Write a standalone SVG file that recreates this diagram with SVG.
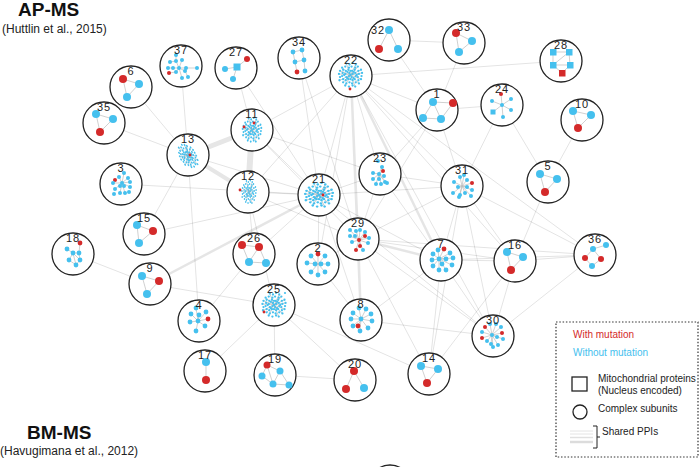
<svg xmlns="http://www.w3.org/2000/svg" xmlns:xlink="http://www.w3.org/1999/xlink" width="700" height="467" viewBox="0 0 700 467">
<style>
text{font-family:"Liberation Sans",Arial,sans-serif}
.c{fill:#fff;stroke:#222;stroke-width:1.3}
.l{font-size:11px;fill:#222;text-anchor:middle;letter-spacing:1px}
.ie{stroke:#bbb;stroke-width:0.7;fill:none}
.B{fill:#45c0ee;r:4px}.R{fill:#d42a2a;r:4px}
.b3{fill:#45c0ee;r:3px}.r3{fill:#d42a2a;r:3px}
.b2{fill:#45c0ee;r:2.4px}.r2{fill:#d42a2a;r:2.4px}
.b1{fill:#45c0ee;r:2px}.r1{fill:#d42a2a;r:2px}
.s{fill:#45c0ee;r:1.1px}.sr{fill:#d42a2a;r:1.4px}
.sqb{fill:#45c0ee}.sqr{fill:#d42a2a}
.e{stroke:#000;stroke-opacity:0.11;stroke-width:1;fill:none}
.m{stroke:#000;stroke-opacity:0.1;stroke-width:2.5;fill:none}
.t{stroke:#e6e6e6;fill:none}
.h{font-weight:bold;font-size:19px;fill:#111}
.sub{font-size:12px;fill:#222}
.lg{font-size:10px;fill:#222}
</style>
<defs>
<g id="cloud">
<path class="ie" d="M0,0L-4,-11M0,0L5,-10M0,0L-10,-4M0,0L10,-5M0,0L-10,5M0,0L10,4M0,0L-5,10M0,0L4.5,11M0,0L-8,-7M0,0L7,-8M0,0L-7,7M0,0L8,8M0,0L-11,-1M0,0L11,-2M-3,-3L3,3M3,-3L-3,3"/>
<circle class="s" cx="-4" cy="-11"/><circle class="s" cx="-1" cy="-10"/><circle class="s" cx="2" cy="-11.5"/><circle class="s" cx="5" cy="-10"/>
<circle class="s" cx="-8" cy="-7"/><circle class="s" cx="-5" cy="-8"/><circle class="s" cx="-1.5" cy="-7"/><circle class="s" cx="1" cy="-8"/><circle class="s" cx="4.5" cy="-7"/><circle class="s" cx="7" cy="-8"/>
<circle class="s" cx="-10" cy="-4"/><circle class="s" cx="-7" cy="-5"/><circle class="s" cx="-4.5" cy="-4"/><circle class="s" cx="-2" cy="-5"/><circle class="s" cx="1.5" cy="-4"/><circle class="s" cx="4" cy="-5"/><circle class="s" cx="7.5" cy="-4"/><circle class="s" cx="10" cy="-5"/>
<circle class="s" cx="-11" cy="-1"/><circle class="s" cx="-7.5" cy="-2"/><circle class="s" cx="-5" cy="-1"/><circle class="s" cx="-1" cy="-2"/><circle class="s" cx="2" cy="-1"/><circle class="s" cx="4.5" cy="-2"/><circle class="s" cx="8" cy="-1"/><circle class="s" cx="11" cy="-2"/>
<circle class="s" cx="-10" cy="2"/><circle class="s" cx="-8" cy="1"/><circle class="s" cx="-4" cy="2"/><circle class="s" cx="-1.5" cy="1"/><circle class="s" cx="1" cy="2"/><circle class="s" cx="5" cy="1"/><circle class="s" cx="7" cy="2"/><circle class="s" cx="10.5" cy="1"/>
<circle class="s" cx="-10.5" cy="5"/><circle class="s" cx="-7" cy="4"/><circle class="s" cx="-4.5" cy="5"/><circle class="s" cx="-2" cy="4"/><circle class="s" cx="2" cy="5"/><circle class="s" cx="4" cy="4"/><circle class="s" cx="7.5" cy="5"/><circle class="s" cx="10" cy="4"/>
<circle class="s" cx="-7" cy="7"/><circle class="s" cx="-4" cy="8"/><circle class="s" cx="-1" cy="7"/><circle class="s" cx="1.5" cy="8"/><circle class="s" cx="5" cy="7"/><circle class="s" cx="8" cy="8"/>
<circle class="s" cx="-5" cy="10"/><circle class="s" cx="-1.5" cy="11"/><circle class="s" cx="2" cy="10"/><circle class="s" cx="4.5" cy="11"/>
<circle class="s" cx="0" cy="0"/><circle class="s" cx="-3" cy="-3"/><circle class="s" cx="3" cy="3"/><circle class="s" cx="-3" cy="3"/><circle class="s" cx="3" cy="-3"/><circle class="s" cx="0" cy="-4"/><circle class="s" cx="0" cy="4"/><circle class="s" cx="-6" cy="0"/><circle class="s" cx="6" cy="0"/>
</g>
</defs>
<rect width="700" height="467" fill="#fff"/>

<g id="connectors">
<path class="t" stroke-width="5" d="M188,155L252,130"/>
<path class="t" stroke-width="6" d="M252,130L248,192"/>
<path class="t" stroke-width="4" d="M188,155L248,192"/>
<path class="m" d="M351,76L358,239M351,76L361,320M361,320L358,239M150,284L319,195M358,239L441,260M351,76L441,260"/>
<path class="e" d="M131,87L188,155M104,123L188,155M181,66L188,155M188,155L319,195M121,184L319,195M188,155L144,234M188,155L199,321M236,68L252,130M236,68L319,195M299,58L319,195M299,58L358,239M252,130L351,76M252,130L319,195M252,130L380,174M252,130L358,239M351,76L319,195M351,76L380,174M351,76L318,264M351,76L462,186M351,76L493,336M351,76L515,261M351,76L248,192M351,76L437,110M351,76L561,61M351,76L595,255M464,43L437,110M389,40L437,110M389,40L464,43M502,105L437,110M502,105L462,186M502,105L548,182M582,120L548,182M437,110L462,186M437,110L380,174M437,110L358,239M548,182L515,261M462,186L515,261M462,186L595,255M462,186L441,260M462,186L493,336M462,186L358,239M462,186L380,174M462,186L319,195M441,260L515,261M515,261L595,255M441,260L595,255M358,239L515,261M358,239L595,255M319,195L441,260M595,255L493,336M515,261L493,336M441,260L493,336M361,320L493,336M429,374L441,260M429,374L462,186M429,374L358,239M429,374L515,261M355,380L274,305M275,375L355,380M274,305L275,375M274,305L429,374M205,371L274,305M199,321L254,254M150,284L73,254M150,284L274,305M144,234L319,195M254,254L248,192M254,254L319,195M318,264L319,195M318,264L358,239M380,174L441,260M380,174L319,195M380,174L358,239M319,195L493,336M248,192L319,195M248,192L274,305M318,264L361,320M358,239L493,336M248,192L358,239M441,260L361,320M319,195L361,320"/>
</g>

<g id="n6" transform="translate(131,87)"><circle class="c" r="21"/><path class="ie" d="M-8,-8L8,-3L-4,10Z"/><circle class="R" cx="-8" cy="-8"/><circle class="B" cx="8" cy="-3"/><circle class="B" cx="-4" cy="10"/><text class="l" y="-12">6</text></g>
<g id="n35" transform="translate(104,123)"><circle class="c" r="21"/><path class="ie" d="M-8,-9L9,-4L-4,9Z"/><circle class="B" cx="-8" cy="-9"/><circle class="B" cx="9" cy="-4"/><circle class="R" cx="-4" cy="9"/><text class="l" y="-12">35</text></g>
<g id="n37" transform="translate(181,66)"><circle class="c" r="21"/><path class="ie" d="M-2,2L-5,-5M-2,2L1,-6M-2,2L-8,2M-2,2L5,2M-2,2L-5,6M-2,2L4,5M-2,2L1,12M-5,-5L-5,-11M-8,2L-13,2M5,2L16,2M-5,6L-12,7M4,5L7,11M-5,-5L-11,-4"/><circle class="b1" cx="-5" cy="-11"/><circle class="b1" cx="-11" cy="-4"/><circle class="b1" cx="-5" cy="-5"/><circle class="b1" cx="1" cy="-6"/><circle class="b1" cx="-13" cy="2"/><circle class="b1" cx="-8" cy="2"/><circle class="b1" cx="-2" cy="2"/><circle class="b1" cx="5" cy="2"/><circle class="b1" cx="16" cy="2"/><circle class="b1" cx="-5" cy="6"/><circle class="b1" cx="4" cy="5"/><circle class="r1" cx="-12" cy="7"/><circle class="b1" cx="1" cy="12"/><circle class="b1" cx="7" cy="11"/><text class="l" y="-12">37</text></g>
<g id="n27" transform="translate(236,68)"><circle class="c" r="21"/><path class="ie" d="M1,-1L11,-9M1,-1L-11,1M1,-1L-3,11"/><rect class="sqb" x="-2.5" y="-4.5" width="7" height="7"/><circle class="r3" cx="11" cy="-9"/><circle class="b3" cx="-11" cy="1"/><circle class="b3" cx="-3" cy="11"/><text class="l" y="-12">27</text></g>
<g id="n34" transform="translate(299,58)"><circle class="c" r="21"/><path class="ie" d="M-6,-6L-4,4M3,-8L5,2M-4,4L5,2M-6,-6L3,-8M5,2L6,13M-4,4L-2,14"/><circle class="b2" cx="-6" cy="-6"/><circle class="b2" cx="3" cy="-8"/><circle class="b2" cx="-4" cy="4"/><circle class="b2" cx="5" cy="2"/><circle class="r2" cx="-2" cy="14"/><circle class="b2" cx="6" cy="13"/><text class="l" y="-12">34</text></g>
<g id="n22" transform="translate(351,76)"><circle class="c" r="21"/><use xlink:href="#cloud" transform="translate(-0.5,-1) scale(1.05)"/><circle class="sr" cx="-1" cy="13"/><text class="l" y="-12">22</text></g>
<g id="n32" transform="translate(389,40)"><circle class="c" r="21"/><path class="ie" d="M-10,9L0,-10L9,9"/><circle class="B" cx="0" cy="-10"/><circle class="R" cx="-10" cy="9"/><circle class="B" cx="9" cy="9"/><text class="l" x="-11" y="-6">32</text></g>
<g id="n33" transform="translate(464,43)"><circle class="c" r="21"/><path class="ie" d="M-8,-10L8,-2L-5,9Z"/><circle class="R" cx="-8" cy="-10"/><circle class="B" cx="8" cy="-2"/><circle class="B" cx="-5" cy="9"/><text class="l" y="-12">33</text></g>
<g id="n1" transform="translate(437,110)"><circle class="c" r="21"/><path class="ie" d="M-4,-8L16,-7M-4,-8L-14,8M-4,-8L4,9M16,-7L4,9M-14,8L4,9"/><circle class="B" cx="-4" cy="-8"/><circle class="R" cx="16" cy="-7"/><circle class="B" cx="-14" cy="8"/><circle class="B" cx="4" cy="9"/><text class="l" y="-12">1</text></g>
<g id="n28" transform="translate(561,61)"><circle class="c" r="21"/><path class="ie" d="M-8,-9L8,-9L9,4L-8,4ZM8,-9L-8,4M-8,4L1,12L9,4"/><rect class="sqb" x="-11" y="-12" width="6.5" height="6.5"/><rect class="sqb" x="5" y="-12" width="6.5" height="6.5"/><rect class="sqb" x="-11" y="1" width="6.5" height="6.5"/><rect class="sqb" x="6" y="1" width="6.5" height="6.5"/><rect class="sqr" x="-2" y="9" width="6.5" height="6.5"/><text class="l" y="-12">28</text></g>
<g id="n24" transform="translate(502,105)"><circle class="c" r="21"/><path class="ie" d="M0,0L-1,-11M0,0L-10,-4M0,0L9,-6M0,0L-9,7M0,0L9,5M0,0L1,12"/><circle class="r1" cx="-1" cy="-11"/><circle class="b1" cx="-10" cy="-4"/><circle class="b1" cx="9" cy="-6"/><circle class="b1" cx="0" cy="0"/><rect class="sqb" x="-11.5" y="4.5" width="5" height="5"/><circle class="b1" cx="9" cy="5"/><circle class="b1" cx="1" cy="12"/><text class="l" y="-12">24</text></g>
<g id="n10" transform="translate(582,120)"><circle class="c" r="21"/><path class="ie" d="M-9,-9L9,-5L-4,8Z"/><circle class="B" cx="-9" cy="-9"/><circle class="B" cx="9" cy="-5"/><circle class="R" cx="-4" cy="8"/><text class="l" y="-12">10</text></g>
<g id="n11" transform="translate(252,130)"><circle class="c" r="21"/><use xlink:href="#cloud" transform="translate(0,0) scale(0.85,1.05)"/><circle class="sr" cx="2" cy="-7"/><circle class="sr" cx="-8" cy="-3"/><text class="l" y="-12">11</text></g>
<g id="n13" transform="translate(188,155)"><circle class="c" r="21"/><use xlink:href="#cloud" transform="translate(0,1) rotate(-35) scale(0.7,1.1)"/><circle class="sr" cx="2" cy="0"/><text class="l" y="-12">13</text></g>
<g id="n3" transform="translate(121,184)"><circle class="c" r="21"/><path class="ie" d="M1,-1L3,-11M1,-1L-2,-7M1,-1L7,-6M1,-1L-8,-1M1,-1L9,-2M1,-1L-1,2M1,-1L3,2M1,-1L-6,5M1,-1L9,3M1,-1L-1,9M1,-1L4,9"/><circle class="b1" cx="3" cy="-11"/><circle class="b1" cx="-2" cy="-7"/><circle class="r1" cx="-6" cy="-4"/><circle class="b1" cx="7" cy="-6"/><circle class="b1" cx="-8" cy="-1"/><circle class="b1" cx="1" cy="-1"/><circle class="b1" cx="9" cy="-2"/><circle class="b1" cx="-1" cy="2"/><circle class="b1" cx="-6" cy="5"/><circle class="b1" cx="3" cy="2"/><circle class="b1" cx="9" cy="3"/><circle class="b1" cx="-7" cy="10"/><circle class="b1" cx="-1" cy="9"/><circle class="b1" cx="4" cy="9"/><circle class="b1" cx="8" cy="8"/><text class="l" y="-12">3</text></g>
<g id="n15" transform="translate(144,234)"><circle class="c" r="21"/><path class="ie" d="M-7,-9L9,-3L-5,9Z"/><circle class="B" cx="-7" cy="-9"/><circle class="R" cx="9" cy="-3"/><circle class="B" cx="-5" cy="9"/><text class="l" y="-12">15</text></g>
<g id="n18" transform="translate(73,254)"><circle class="c" r="21"/><path class="ie" d="M7,-11L6,-1M-6,-5L0,-1L6,-1L7,6L3,11L-4,6L0,-1L7,6M0,-1L3,11"/><circle class="r2" cx="7" cy="-11"/><circle class="b2" cx="-6" cy="-5"/><circle class="b2" cx="0" cy="-1"/><circle class="b2" cx="6" cy="-1"/><circle class="b2" cx="-4" cy="6"/><circle class="b2" cx="7" cy="6"/><circle class="b2" cx="3" cy="11"/><text class="l" y="-12">18</text></g>
<g id="n9" transform="translate(150,284)"><circle class="c" r="21"/><path class="ie" d="M-8,-8L9,-3L-3,10Z"/><circle class="B" cx="-8" cy="-8"/><circle class="R" cx="9" cy="-3"/><circle class="B" cx="-3" cy="10"/><text class="l" y="-12">9</text></g>
<g id="n12" transform="translate(248,192)"><circle class="c" r="21"/><use xlink:href="#cloud" transform="translate(1,0) scale(0.65,1)"/><circle class="sr" cx="-8" cy="-2"/><text class="l" y="-12">12</text></g>
<g id="n21" transform="translate(319,195)"><circle class="c" r="21"/><use xlink:href="#cloud" transform="scale(1.25,1.05)"/><circle class="sr" cx="4" cy="0"/><text class="l" y="-12">21</text></g>
<g id="n23" transform="translate(380,174)"><circle class="c" r="21"/><path class="ie" d="M-1,0L2,-7M-1,0L3,-3M-1,0L-7,-1M-1,0L4,2M-1,0L-7,5M-1,0L-1,5M-1,0L5,8M-1,0L-4,10M-1,0L1,10M-1,0L7,9"/><circle class="b1" cx="-2" cy="-13"/><circle class="b1" cx="2" cy="-7"/><circle class="r1" cx="3" cy="-3"/><circle class="b1" cx="-7" cy="-1"/><circle class="b1" cx="-1" cy="0"/><circle class="b1" cx="4" cy="2"/><circle class="b1" cx="-7" cy="5"/><circle class="b1" cx="-1" cy="5"/><circle class="b1" cx="5" cy="8"/><circle class="b1" cx="-4" cy="10"/><circle class="b1" cx="1" cy="10"/><circle class="b1" cx="7" cy="9"/><text class="l" y="-12">23</text></g>
<g id="n31" transform="translate(462,186)"><circle class="c" r="21"/><path class="ie" d="M0,0L2,-11M0,0L-2,-9M0,0L5,-6M0,0L10,-3M0,0L-8,-4M0,0L-4,1M0,0L5,1M0,0L-9,7M0,0L-2,9M0,0L3,7M0,0L10,4M0,0L9,10M0,0L-3,11"/><circle class="b1" cx="2" cy="-11"/><circle class="b1" cx="-2" cy="-9"/><circle class="b1" cx="5" cy="-6"/><circle class="r1" cx="10" cy="-3"/><circle class="b1" cx="-8" cy="-4"/><circle class="b1" cx="-4" cy="1"/><circle class="b1" cx="5" cy="1"/><circle class="b1" cx="-9" cy="7"/><circle class="b1" cx="-2" cy="9"/><circle class="b1" cx="3" cy="7"/><circle class="b1" cx="10" cy="4"/><circle class="b1" cx="9" cy="10"/><circle class="b1" cx="-3" cy="11"/><text class="l" y="-12">31</text></g>
<g id="n29" transform="translate(358,239)"><circle class="c" r="21"/><path class="ie" d="M1,1L-8,-9M1,1L-2,-8M1,1L2,-9M1,1L7,-7M1,1L7,-3M1,1L-8,-3M1,1L11,-1M1,1L-6,3M1,1L10,4M1,1L2,7M1,1L-2,11M1,1L5,11"/><circle class="b1" cx="-8" cy="-9"/><circle class="b1" cx="-2" cy="-8"/><circle class="b1" cx="2" cy="-9"/><circle class="b1" cx="7" cy="-7"/><circle class="r1" cx="7" cy="-3"/><circle class="b1" cx="-8" cy="-3"/><circle class="b1" cx="-3" cy="-3"/><circle class="r1" cx="1" cy="1"/><circle class="b1" cx="11" cy="-1"/><circle class="b1" cx="-6" cy="3"/><circle class="b1" cx="10" cy="4"/><circle class="r1" cx="2" cy="7"/><circle class="r1" cx="-2" cy="11"/><circle class="b1" cx="5" cy="11"/><text class="l" y="-12">29</text></g>
<g id="n26" transform="translate(254,254)"><circle class="c" r="21"/><path class="ie" d="M-12,-9L5,-7L-5,8L-12,-9M5,-7L12,9L-5,8"/><circle class="R" cx="-12" cy="-9"/><circle class="R" cx="5" cy="-7"/><circle class="B" cx="-5" cy="8"/><circle class="B" cx="12" cy="9"/><text class="l" y="-12">26</text></g>
<g id="n2" transform="translate(318,264)"><circle class="c" r="21"/><path class="ie" d="M0,0L0,-10M0,0L-7,-8M0,0L7,-8M0,0L-11,-1M0,0L10,0M0,0L-7,8M0,0L0,11M0,0L7,8"/><circle class="r2" cx="0" cy="-10"/><circle class="b2" cx="-7" cy="-8"/><circle class="b2" cx="7" cy="-8"/><circle class="b2" cx="-11" cy="-1"/><circle class="b2" cx="-3" cy="0"/><circle class="b2" cx="3" cy="0"/><circle class="b2" cx="10" cy="0"/><circle class="b2" cx="-7" cy="8"/><circle class="b2" cx="0" cy="11"/><circle class="b2" cx="7" cy="8"/><text class="l" y="-12">2</text></g>
<g id="n7" transform="translate(441,260)"><circle class="c" r="21"/><path class="ie" d="M-2,-1L-3,-10M-2,-1L3,-11M-2,-1L-8,-6M-2,-1L9,-7M-2,-1L-9,0M-2,-1L5,-1M-2,-1L12,-2M-2,-1L-8,6M-2,-1L1,4M-2,-1L11,5M-2,-1L-2,10M-2,-1L5,10"/><circle class="b2" cx="-3" cy="-10"/><circle class="r2" cx="3" cy="-11"/><circle class="b2" cx="-8" cy="-6"/><circle class="b2" cx="9" cy="-7"/><circle class="b2" cx="-9" cy="0"/><circle class="b2" cx="-2" cy="-1"/><circle class="b2" cx="5" cy="-1"/><circle class="b2" cx="12" cy="-2"/><circle class="b2" cx="-8" cy="6"/><circle class="b2" cx="1" cy="4"/><circle class="b2" cx="11" cy="5"/><circle class="b2" cx="-2" cy="10"/><circle class="b2" cx="5" cy="10"/><text class="l" y="-12">7</text></g>
<g id="n25" transform="translate(274,305)"><circle class="c" r="21"/><use xlink:href="#cloud" transform="scale(1.05)"/><circle class="s" cx="11" cy="-12"/><circle class="sr" cx="-10" cy="7"/><text class="l" y="-12">25</text></g>
<g id="n8" transform="translate(361,320)"><circle class="c" r="21"/><path class="ie" d="M0,-1L-2,-12M0,-1L5,-11M0,-1L-8,-7M0,-1L10,-6M0,-1L-10,-1M0,-1L11,1M0,-1L-8,6M0,-1L-3,6M0,-1L7,8M0,-1L-1,11"/><circle class="b2" cx="-2" cy="-12"/><circle class="b2" cx="5" cy="-11"/><circle class="b2" cx="-8" cy="-7"/><circle class="b2" cx="10" cy="-6"/><circle class="b2" cx="-10" cy="-1"/><circle class="b2" cx="0" cy="-1"/><circle class="b2" cx="11" cy="1"/><circle class="b2" cx="-8" cy="6"/><circle class="r2" cx="-3" cy="6"/><circle class="b2" cx="7" cy="8"/><circle class="b2" cx="-1" cy="11"/><text class="l" y="-12">8</text></g>
<g id="n5" transform="translate(548,182)"><circle class="c" r="21"/><path class="ie" d="M-8,-8L9,-3L-3,10Z"/><circle class="B" cx="-8" cy="-8"/><circle class="B" cx="9" cy="-3"/><circle class="R" cx="-3" cy="10"/><text class="l" y="-12">5</text></g>
<g id="n16" transform="translate(515,261)"><circle class="c" r="21"/><path class="ie" d="M-8,-9L8,-4L-4,9Z"/><circle class="B" cx="-8" cy="-9"/><circle class="B" cx="8" cy="-4"/><circle class="R" cx="-4" cy="9"/><text class="l" y="-12">16</text></g>
<g id="n36" transform="translate(595,255)"><circle class="c" r="21"/><path class="ie" d="M-2,-6L11,-10M-2,-6L-10,3M-2,-6L6,4M-10,3L-3,11L6,4"/><circle class="b3" cx="-2" cy="-6"/><circle class="b3" cx="11" cy="-10"/><circle class="r3" cx="-10" cy="3"/><circle class="r3" cx="6" cy="4"/><circle class="b3" cx="-3" cy="11"/><text class="l" y="-12">36</text></g>
<g id="n4" transform="translate(199,321)"><circle class="c" r="21"/><path class="ie" d="M-1,0L-3,-13M-1,0L-8,-7M-1,0L0,-6M-1,0L7,-9M-1,0L-9,1M-1,0L9,-2M-1,0L6,5M-1,0L-3,10"/><circle class="b2" cx="-3" cy="-13"/><circle class="b2" cx="-8" cy="-7"/><circle class="b2" cx="0" cy="-6"/><circle class="b2" cx="7" cy="-9"/><circle class="b2" cx="-9" cy="1"/><circle class="b2" cx="-1" cy="0"/><circle class="r2" cx="9" cy="-2"/><circle class="b2" cx="6" cy="5"/><circle class="b2" cx="-3" cy="10"/><text class="l" y="-12">4</text></g>
<g id="n17" transform="translate(205,371)"><circle class="c" r="21"/><path class="ie" d="M1,-9L1,9"/><circle class="B" cx="1" cy="-9"/><circle class="R" cx="1" cy="9"/><text class="l" y="-12">17</text></g>
<g id="n19" transform="translate(275,375)"><circle class="c" r="21"/><path class="ie" d="M-8,-10L5,-4M-8,-10L-13,1M-8,-10L-2,9M-13,1L-2,9L14,10L5,-4L-2,9"/><circle class="r3" cx="-8" cy="-10" style="r:3.5px"/><circle class="b3" cx="5" cy="-4" style="r:3.5px"/><circle class="b3" cx="-13" cy="1" style="r:3.5px"/><circle class="b3" cx="-2" cy="9" style="r:3.5px"/><circle class="b3" cx="14" cy="10" style="r:3.5px"/><text class="l" y="-12">19</text></g>
<g id="n20" transform="translate(355,380)"><circle class="c" r="21"/><path class="ie" d="M-9,9L-1,-9L9,8"/><circle class="R" cx="-1" cy="-9"/><circle class="R" cx="-9" cy="9"/><circle class="B" cx="9" cy="8"/><text class="l" y="-12">20</text></g>
<g id="n14" transform="translate(429,374)"><circle class="c" r="21"/><path class="ie" d="M-8,-8L9,-5L-2,9Z"/><circle class="B" cx="-8" cy="-8"/><circle class="B" cx="9" cy="-5"/><circle class="R" cx="-2" cy="9"/><text class="l" y="-12">14</text></g>
<g id="n30" transform="translate(493,336)"><circle class="c" r="21"/><path class="ie" d="M-1,-1L-3,-12M-1,-1L3,-12M-1,-1L-8,-9M-1,-1L8,-9M-1,-1L-11,-4M-1,-1L9,-3M-1,-1L-11,2M-1,-1L4,1M-1,-1L-6,5M-1,-1L10,3M-1,-1L-2,8M-1,-1L5,9M-1,-1L0,11"/><circle class="b1" cx="-3" cy="-12"/><circle class="b1" cx="3" cy="-12"/><circle class="r1" cx="-8" cy="-9"/><circle class="b1" cx="8" cy="-9"/><circle class="b1" cx="-11" cy="-4"/><circle class="b1" cx="-1" cy="-1"/><circle class="r1" cx="9" cy="-3"/><circle class="r1" cx="-11" cy="2"/><circle class="b1" cx="4" cy="1"/><circle class="b1" cx="-6" cy="5"/><circle class="b1" cx="10" cy="3"/><circle class="b1" cx="-2" cy="8"/><circle class="b1" cx="5" cy="9"/><circle class="b1" cx="0" cy="11"/><text class="l" y="-12">30</text></g>
<g id="n-bottom"><circle class="c" cx="390" cy="486" r="21"/></g>

<g id="titles">
<text class="h" x="18" y="16">AP-MS</text>
<text class="sub" x="2" y="33">(Huttlin et al., 2015)</text>
<text class="h" x="27" y="439">BM-MS</text>
<text class="sub" x="0" y="455">(Havugimana et al., 2012)</text>
</g>

<g id="legend">
<rect x="556" y="322" width="142" height="135" fill="none" stroke="#333" stroke-width="1.2" stroke-dasharray="1.5 1.8"/>
<text class="lg" x="573" y="338" style="fill:#d42a2a">With mutation</text>
<text class="lg" x="573" y="356" style="fill:#45c0ee">Without mutation</text>
<rect x="572" y="377" width="15" height="14" fill="none" stroke="#222" stroke-width="1.3"/>
<text class="lg" x="598" y="382">Mitochondrial proteins</text>
<text class="lg" x="598" y="394">(Nucleus encoded)</text>
<circle cx="580" cy="412" r="7" fill="none" stroke="#222" stroke-width="1.3"/>
<text class="lg" x="598" y="412">Complex subunits</text>
<path d="M570,431H593M570,434H593" stroke="#e4e4e4" stroke-width="1"/>
<path d="M570,437.5H593" stroke="#e0e0e0" stroke-width="1.5"/>
<path d="M570,442H593" stroke="#dcdcdc" stroke-width="2.5"/>
<path d="M593,426H597V448H593M597,437H600" fill="none" stroke="#222" stroke-width="1"/>
<text class="lg" x="602" y="435">Shared PPIs</text>
</g>
</svg>
